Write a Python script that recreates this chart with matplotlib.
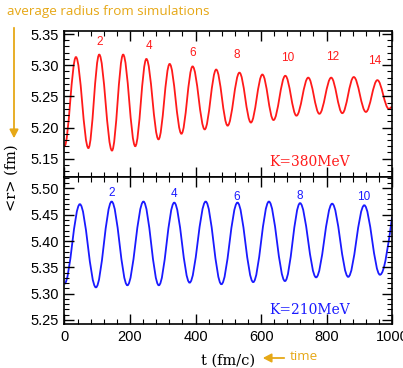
import matplotlib
matplotlib.use("Agg")
import matplotlib.pyplot as plt
from matplotlib.path import Path
from matplotlib.patches import PathPatch, FancyArrowPatch
from matplotlib.ticker import MultipleLocator

# ---------------- data ----------------
# K=380MeV (red): start, alternating extrema, end
red_t = [0, 35, 73, 106, 145, 179, 216, 250, 287, 321, 357, 391, 428, 463, 498,
         534, 569, 604, 638, 674, 708, 744, 778, 814, 848, 883, 920, 955, 990, 1000]
red_r = [5.170, 5.313, 5.167, 5.317, 5.163, 5.317, 5.170, 5.310, 5.181, 5.302,
         5.190, 5.298, 5.197, 5.293, 5.203, 5.288, 5.208, 5.285, 5.212, 5.283,
         5.219, 5.280, 5.222, 5.280, 5.223, 5.281, 5.225, 5.276, 5.230, 5.233]
red_labels = ["2", "4", "6", "8", "10", "12", "14"]
red_label_t = [106, 258, 391, 527, 682, 819, 948]
red_label_r = [5.337, 5.330, 5.320, 5.317, 5.312, 5.3135, 5.307]

# K=210MeV (blue)
blue_t = [0, 47, 96, 144, 192, 241, 288, 335, 382, 431, 479, 528, 576, 624,
          673, 719, 768, 817, 866, 915, 963, 1000]
blue_r = [5.319, 5.470, 5.312, 5.475, 5.316, 5.475, 5.316, 5.473, 5.321, 5.475,
          5.318, 5.473, 5.322, 5.475, 5.324, 5.472, 5.331, 5.471, 5.332, 5.468,
          5.336, 5.446]
blue_labels = ["2", "4", "6", "8", "10"]
blue_label_t = [144, 335, 527, 719, 914]
blue_label_r = [5.4905, 5.489, 5.483, 5.486, 5.484]

xticks = [0, 200, 400, 600, 800, 1000]
top_yticks = [5.15, 5.20, 5.25, 5.30, 5.35]
bot_yticks = [5.25, 5.30, 5.35, 5.40, 5.45, 5.50]

RED = "#ff1a1a"
BLUE = "#1a1aff"
GOLD = "#e6a817"

K = 0.3634  # bezier handle ratio for a half-cosine


def smooth_path(ts, rs, last_is_extremum):
    verts = [(ts[0], rs[0])]
    codes = [Path.MOVETO]
    n = len(ts)
    for i in range(n - 1):
        t0, y0, t1, y1 = ts[i], rs[i], ts[i + 1], rs[i + 1]
        dt = t1 - t0
        if i == n - 2 and not last_is_extremum:
            c1 = (t0 + K * dt, y0)
            c2 = (t1 - dt / 3, y1 - (y1 - y0) * 0.5)
        else:
            c1 = (t0 + K * dt, y0)
            c2 = (t1 - K * dt, y1)
        verts += [c1, c2, (t1, y1)]
        codes += [Path.CURVE4] * 3
    return Path(verts, codes)


fig = plt.figure(figsize=(4.03, 3.68), dpi=100)
left, right = 0.160, 0.973
ax1 = fig.add_axes([left, 0.518, right - left, 0.916 - 0.518])
ax2 = fig.add_axes([left, 0.119, right - left, 0.518 - 0.119])

tick_font = dict(family="Liberation Sans", size=10.5)
TYPE = "DejaVu Serif"

for ax, ts, rs, col, lim, yt, last_ext in [
        (ax1, red_t, red_r, RED, (5.12, 5.355), top_yticks, True),
        (ax2, blue_t, blue_r, BLUE, (5.242, 5.521), bot_yticks, False)]:
    ax.add_patch(PathPatch(smooth_path(ts, rs, last_ext), facecolor="none",
                           edgecolor=col, lw=1.3))
    ax.set_xlim(0, 1000)
    ax.set_ylim(*lim)
    ax.set_xticks(xticks)
    ax.set_yticks(yt)
    ax.xaxis.set_minor_locator(MultipleLocator(40))
    ax.yaxis.set_minor_locator(MultipleLocator(0.01))
    ax.tick_params(which="major", direction="in", length=7, width=1.0,
                   top=True, right=True, pad=4)
    ax.tick_params(which="minor", direction="in", length=3.5, width=0.8,
                   top=True, right=True)
    for s in ax.spines.values():
        s.set_linewidth(1.2)
    ax.set_yticklabels([f"{v:.2f}" for v in yt], **tick_font)

ax1.set_xticklabels([])
ax2.set_xticklabels([str(v) for v in xticks], **tick_font)

for lab, t, r in zip(red_labels, red_label_t, red_label_r):
    ax1.text(t, r, lab, color=RED, ha="center", va="center",
             family="Liberation Sans", fontsize=8.5)
for lab, t, r in zip(blue_labels, blue_label_t, blue_label_r):
    ax2.text(t, r, lab, color=BLUE, ha="center", va="center",
             family="Liberation Sans", fontsize=8.5)

ax1.text(0.871, 0.105, "K=380MeV", transform=ax1.transAxes, color=RED,
         ha="right", va="center", family=TYPE, fontsize=10)
ax2.text(0.871, 0.10, "K=210MeV", transform=ax2.transAxes, color=BLUE,
         ha="right", va="center", family=TYPE, fontsize=10)

fig.text(12 / 403, 1 - 178 / 368, "<r> (fm)", rotation=90, ha="center",
         va="center", family=TYPE, fontsize=10.5)
fig.text(228 / 403, 1 - 361 / 368, "t (fm/c)", ha="center", va="center",
         family=TYPE, fontsize=10.5)

# gold annotations
fig.text(7 / 403, 1 - 12 / 368, "average radius from simulations", color=GOLD,
         ha="left", va="center", family="Open Sans", fontsize=9.7)
fig.add_artist(FancyArrowPatch((14 / 403, 1 - 25 / 368), (14 / 403, 1 - 141 / 368),
                               transform=fig.transFigure,
                               arrowstyle="-|>,head_length=5,head_width=2.6",
                               color=GOLD, lw=1.3, mutation_scale=1))
fig.add_artist(FancyArrowPatch((287 / 403, 1 - 358 / 368), (260 / 403, 1 - 358 / 368),
                               transform=fig.transFigure,
                               arrowstyle="-|>,head_length=5,head_width=2.6",
                               color=GOLD, lw=1.3, mutation_scale=1))
fig.text(290 / 403, 1 - 357 / 368, "time", color=GOLD, ha="left", va="center",
         family="Open Sans", fontsize=9.7)

fig.savefig("out.png", dpi=100)
